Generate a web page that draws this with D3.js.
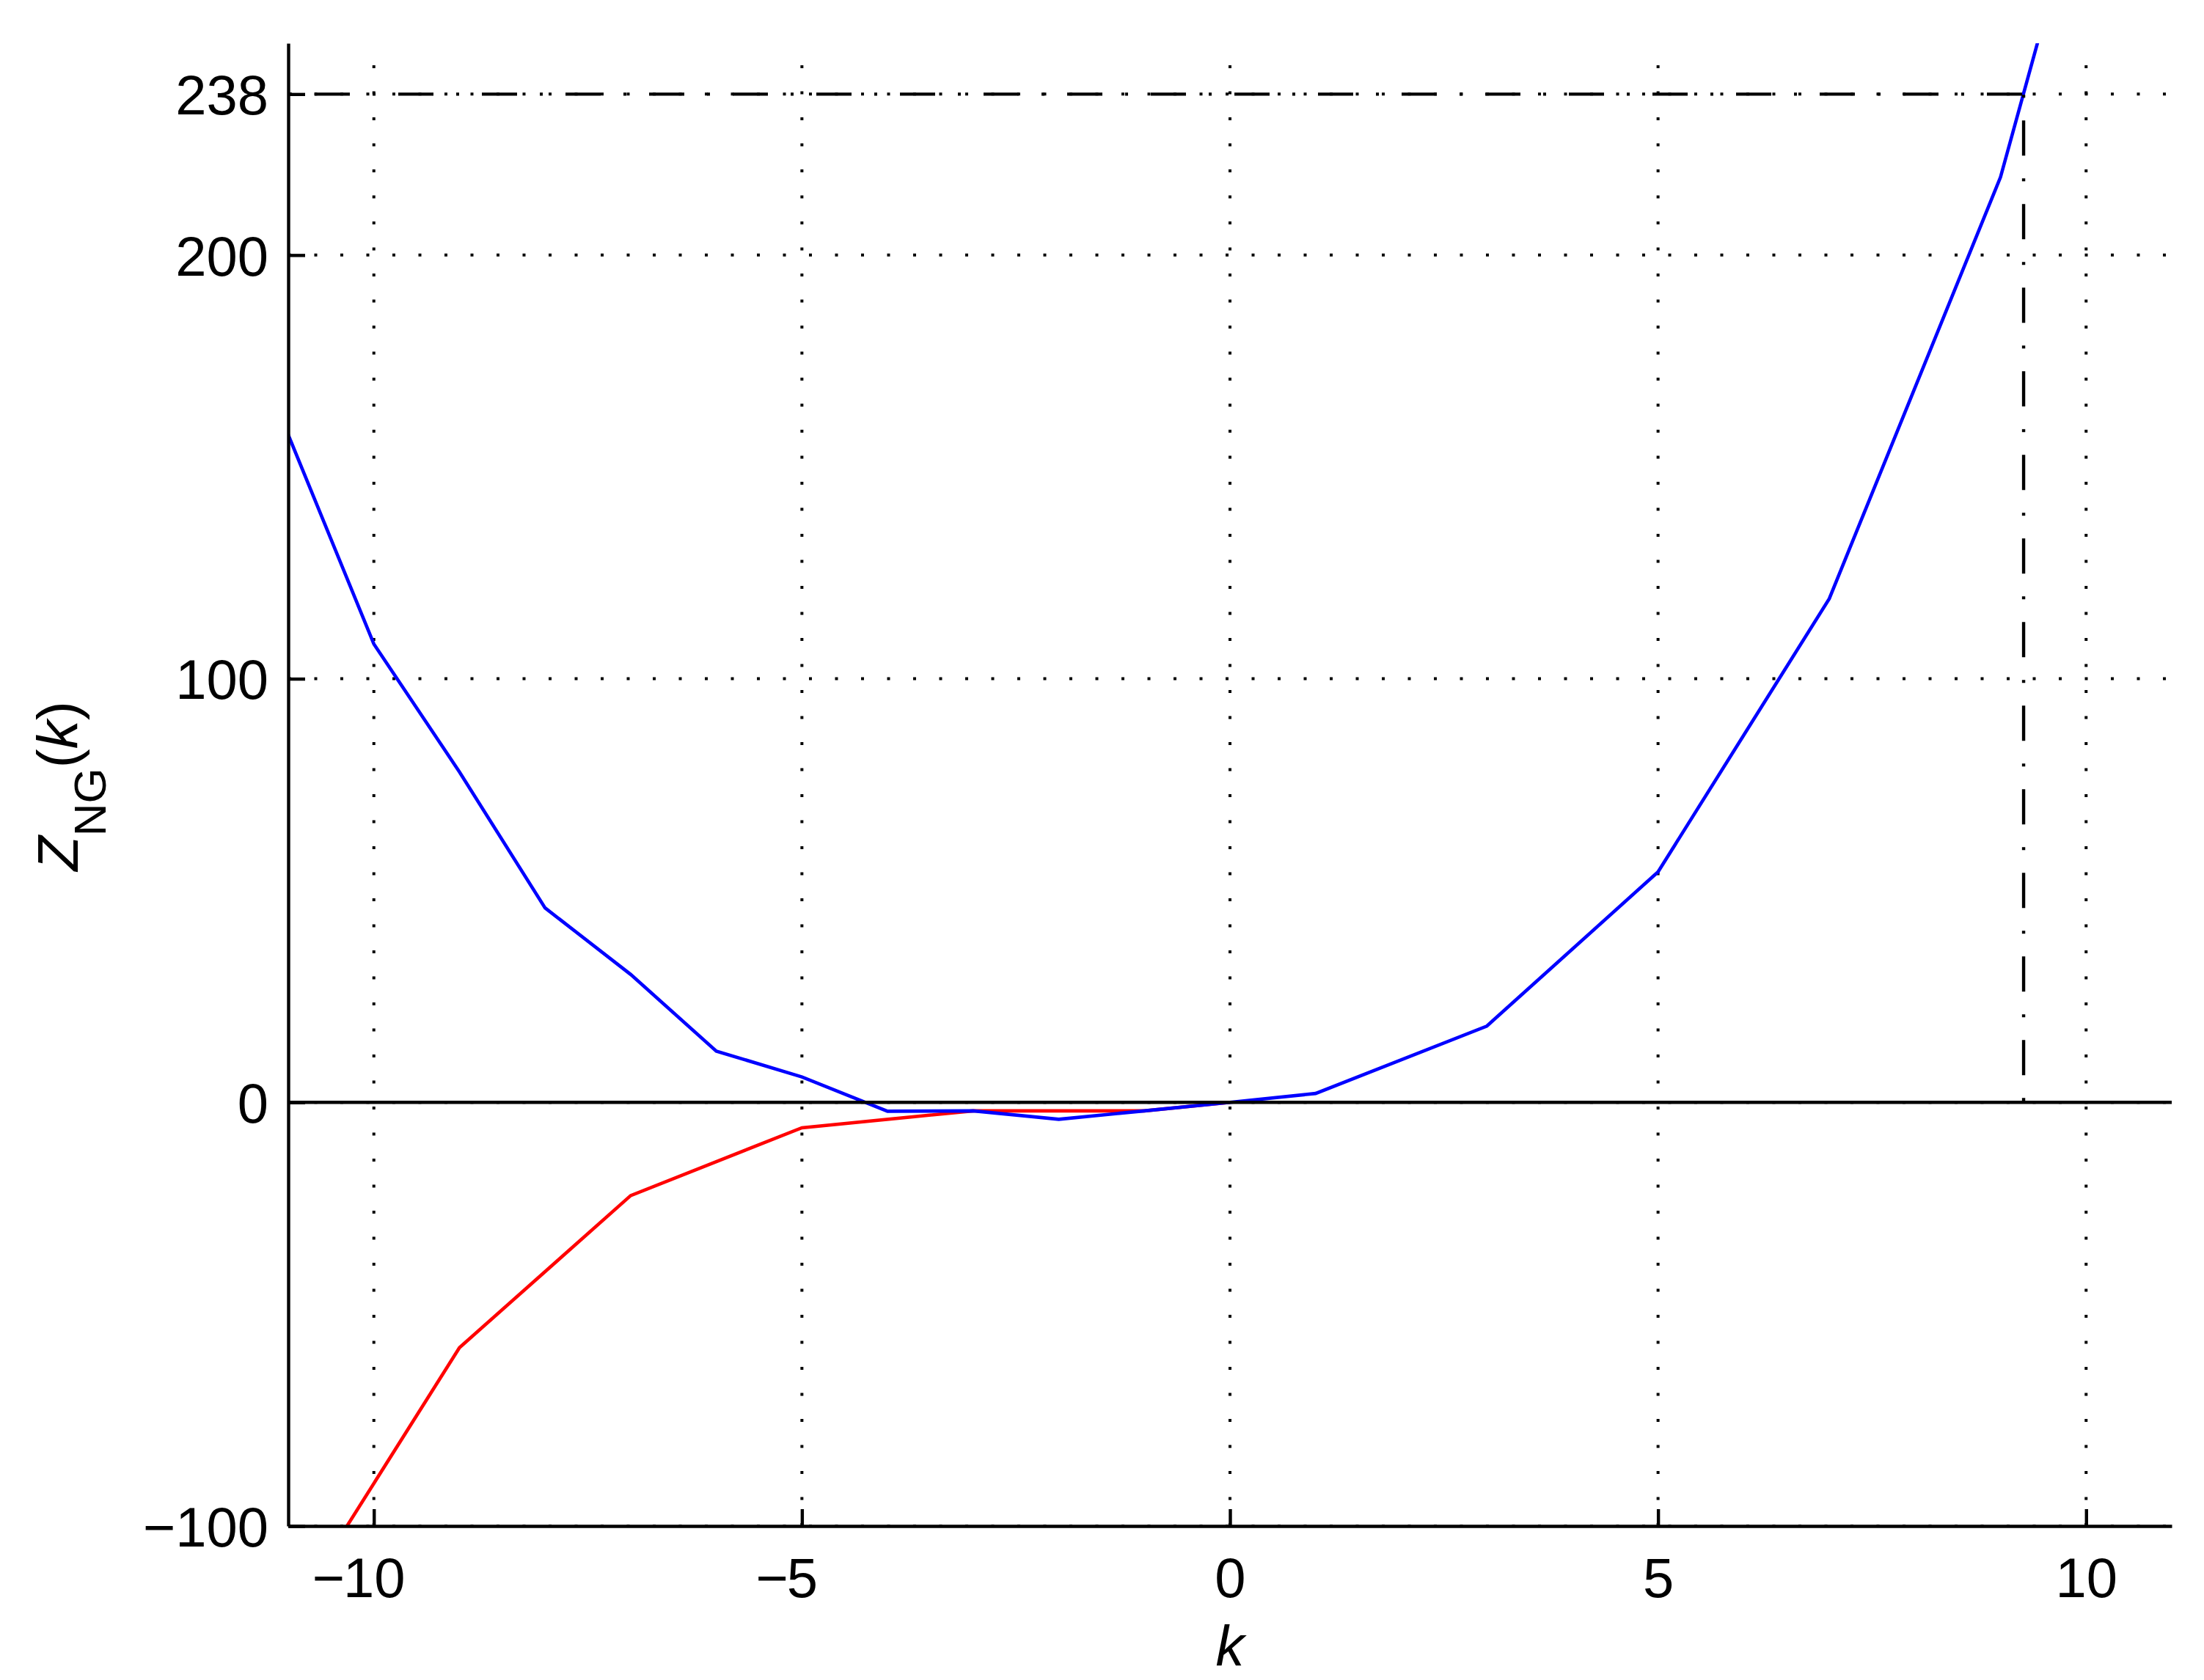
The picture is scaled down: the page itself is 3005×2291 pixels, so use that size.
<!DOCTYPE html>
<meta charset="utf-8">
<head>
<style>
  body { margin: 0; background: #fff; }
  svg text { font-family: "Liberation Sans", Arial, Helvetica, sans-serif; fill: #000; }
  .axis path, .axis line { stroke: #000; stroke-width: 4.4; fill: none; }
  .axis text { font-size: 76px; }
</style>
</head>
<body>
<script src="https://d3js.org/d3.v7.min.js"></script>
<script>

// values
var blueK = [-11, -10, -9, -8, -7, -6, -5, -4, -3, -2, -1, 0, 1, 3, 5, 7, 9, 11];
var blueZ = [157.6, 108.2, 78.0, 45.9, 30.2, 12.1, 6.0, -2.1, -2.0, -4.0, -2.0, 0, 2.1, 18.0, 54.4, 118.9, 218.4, 365];

var redK = [-11, -9, -7, -5, -3, -1, 0];
var redZ = [-122, -57.9, -22.0, -6.0, -2.0, -2.0, 0];

var xTicks = [-10, -5, 0, 5, 10];
var yTicks = [-100, 0, 100, 200, 238];

var threshold = 238;
var kCross = 9.27;

var W = 3005, H = 2291;
var margin = {top: 59, right: 44, bottom: 210, left: 393};

var x = d3.scaleLinear().domain([-11, 11]).range([margin.left, W - margin.right]);
var y = d3.scaleLinear().domain([-100, 250]).range([H - margin.bottom, margin.top]);

var svg = d3.select("body").append("svg")
    .attr("width", W)
    .attr("height", H);

svg.append("rect").attr("width", W).attr("height", H).attr("fill", "#fff");

svg.append("clipPath").attr("id", "plot")
  .append("rect")
    .attr("x", x(-11)).attr("y", y(250))
    .attr("width", x(11) - x(-11)).attr("height", y(-100) - y(250));

// dotted grid
var grid = svg.append("g")
    .attr("stroke", "#000")
    .attr("stroke-width", 4)
    .attr("stroke-dasharray", "4 31.5");

grid.selectAll(".gx").data(xTicks).enter().append("line")
    .attr("x1", function(d) { return x(d); })
    .attr("x2", function(d) { return x(d); })
    .attr("y1", y(-100))
    .attr("y2", y(250));

grid.selectAll(".gy").data(yTicks).enter().append("line")
    .attr("x1", x(-11))
    .attr("x2", x(11))
    .attr("y1", function(d) { return y(d); })
    .attr("y2", function(d) { return y(d); });

var line = d3.line()
    .x(function(d) { return x(d[0]); })
    .y(function(d) { return y(d[1]); });

var plot = svg.append("g").attr("clip-path", "url(#plot)");

plot.append("path")
    .datum(d3.zip(redK, redZ))
    .attr("fill", "none")
    .attr("stroke", "#ff0000")
    .attr("stroke-width", 4.6)
    .attr("d", line);

plot.append("path")
    .datum(d3.zip(blueK, blueZ))
    .attr("fill", "none")
    .attr("stroke", "#0000ff")
    .attr("stroke-width", 4.6)
    .attr("d", line);

// zero line
plot.append("line")
    .attr("x1", x(-11)).attr("x2", x(11))
    .attr("y1", y(0)).attr("y2", y(0))
    .attr("stroke", "#000")
    .attr("stroke-width", 4.4);

// dash-dot threshold lines
plot.append("path")
    .datum([[-11, threshold], [kCross, threshold]])
    .attr("fill", "none")
    .attr("stroke", "#000")
    .attr("stroke-width", 4.4)
    .attr("stroke-dasharray", "48 31 4 31")
    .attr("stroke-dashoffset", 78)
    .attr("d", line);

plot.append("path")
    .datum([[kCross, threshold], [kCross, 0]])
    .attr("fill", "none")
    .attr("stroke", "#000")
    .attr("stroke-width", 4.4)
    .attr("stroke-dasharray", "48 31 4 31")
    .attr("stroke-dashoffset", 78)
    .attr("d", line);

// axes
var xAxis = svg.append("g")
    .attr("class", "axis")
    .attr("transform", "translate(0," + y(-100) + ")")
    .call(d3.axisBottom(x).tickValues(xTicks).tickSizeInner(-23).tickSizeOuter(0).tickPadding(43)
      .tickFormat(function(d) { return Math.abs(d); }));

// the minus hangs to the left of the centred digits
xAxis.selectAll(".tick").filter(function(d) { return d < 0; })
  .each(function() {
    var t = d3.select(this).select("text");
    var w = t.node().getComputedTextLength();
    d3.select(this).append("text")
        .attr("y", t.attr("y"))
        .attr("dy", t.attr("dy"))
        .attr("x", -w / 2 + 2)
        .attr("text-anchor", "end")
        .attr("fill", "#000")
        .text("\u2212");
  });

svg.append("g")
    .attr("class", "axis")
    .attr("transform", "translate(" + x(-11) + ",0)")
    .call(d3.axisLeft(y).tickValues(yTicks).tickSizeInner(-23).tickSizeOuter(0).tickPadding(27))
    .call(function(g) { g.selectAll("text").attr("dy", "0.36em"); });

svg.selectAll(".axis").attr("font-size", null).attr("font-family", null);

// axis labels
svg.append("text")
    .attr("x", x(0))
    .attr("y", 2272)
    .attr("text-anchor", "middle")
    .style("font-size", "78px")
    .style("font-style", "italic")
    .text("k");

var yl = svg.append("text")
    .attr("transform", "translate(106,1072) rotate(-90)")
    .attr("text-anchor", "middle")
    .style("font-size", "78px");
yl.append("tspan").style("font-style", "italic").text("Z");
yl.append("tspan").attr("dy", 38).style("font-size", "62px").text("NG");
yl.append("tspan").attr("dy", -38).text("(");
yl.append("tspan").style("font-style", "italic").text("k");
yl.append("tspan").text(")");

</script>
</body>
